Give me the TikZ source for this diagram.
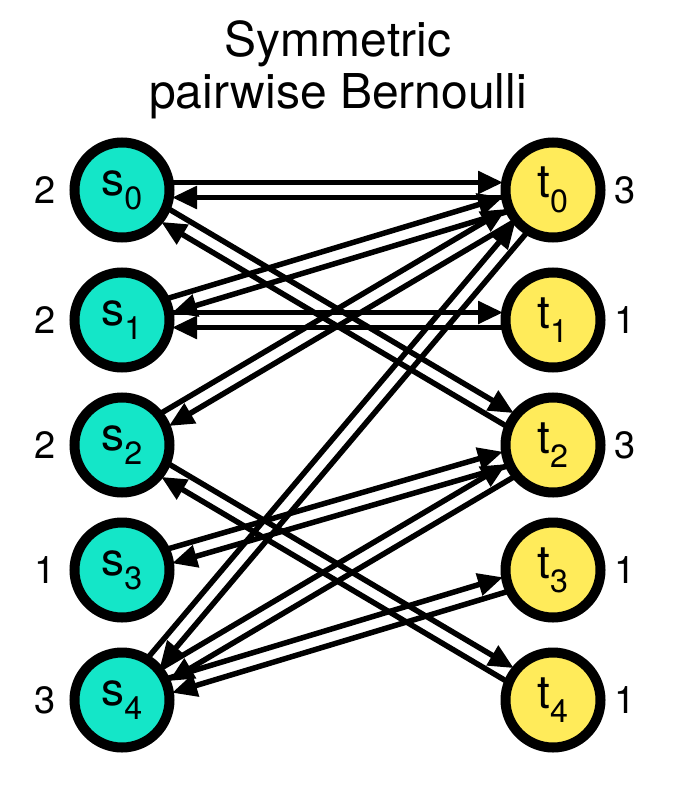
\documentclass[tikz,border=0pt]{standalone}
\usepackage{fontspec}
\setmainfont{TeX Gyre Heros}
\usetikzlibrary{calc,arrows.meta}
\definecolor{scol}{RGB}{20,230,200}
\definecolor{tcol}{RGB}{255,235,90}
\tikzset{
  vert/.style={circle, draw=black, line width=10pt, minimum size=95pt, inner sep=0pt, font=\fontsize{46}{50}\selectfont},
  arr/.style={line width=5.5pt, -{Triangle[length=25pt,width=22pt]}, shorten >=50pt, shorten <=50pt},
  deg/.style={font=\fontsize{38}{42}\selectfont}
}
\newcommand\pairarr[2]{
  \draw[arr] ($(#1)!7.5pt!90:(#2)$) -- ($(#2)!7.5pt!-90:(#1)$);
  \draw[arr] ($(#2)!7.5pt!90:(#1)$) -- ($(#1)!7.5pt!-90:(#2)$);
}
\begin{document}
\begin{tikzpicture}[x=1pt,y=-1pt]
\useasboundingbox (0,0) rectangle (676,800);

%% Title
\node[align=center, font=\fontsize{48}{52}\selectfont] (title) at (338,70) {Symmetric\\pairwise Bernoulli};

%% Vertices
\foreach \i/\y/\ds/\dt in {0/190/2/3, 1/320/2/1, 2/445/2/3, 3/570/1/1, 4/700/3/1}{
  \node[vert, fill=scol] (s\i) at (122,\y) {s\textsubscript{\i}};
  \node[vert, fill=tcol] (t\i) at (553,\y) {t\textsubscript{\i}};
  \node[deg] (ds\i) at (45,\y) {\ds};
  \node[deg] (dt\i) at (625,\y) {\dt};
}

%% Edges
\pairarr{s0}{t0}
\pairarr{s0}{t2}
\pairarr{t0}{s1}
\pairarr{s1}{t1}
\pairarr{t0}{s2}
\pairarr{s2}{t4}
\pairarr{t2}{s3}
\pairarr{t0}{s4}
\pairarr{t2}{s4}
\pairarr{t3}{s4}

\end{tikzpicture}
\end{document}
